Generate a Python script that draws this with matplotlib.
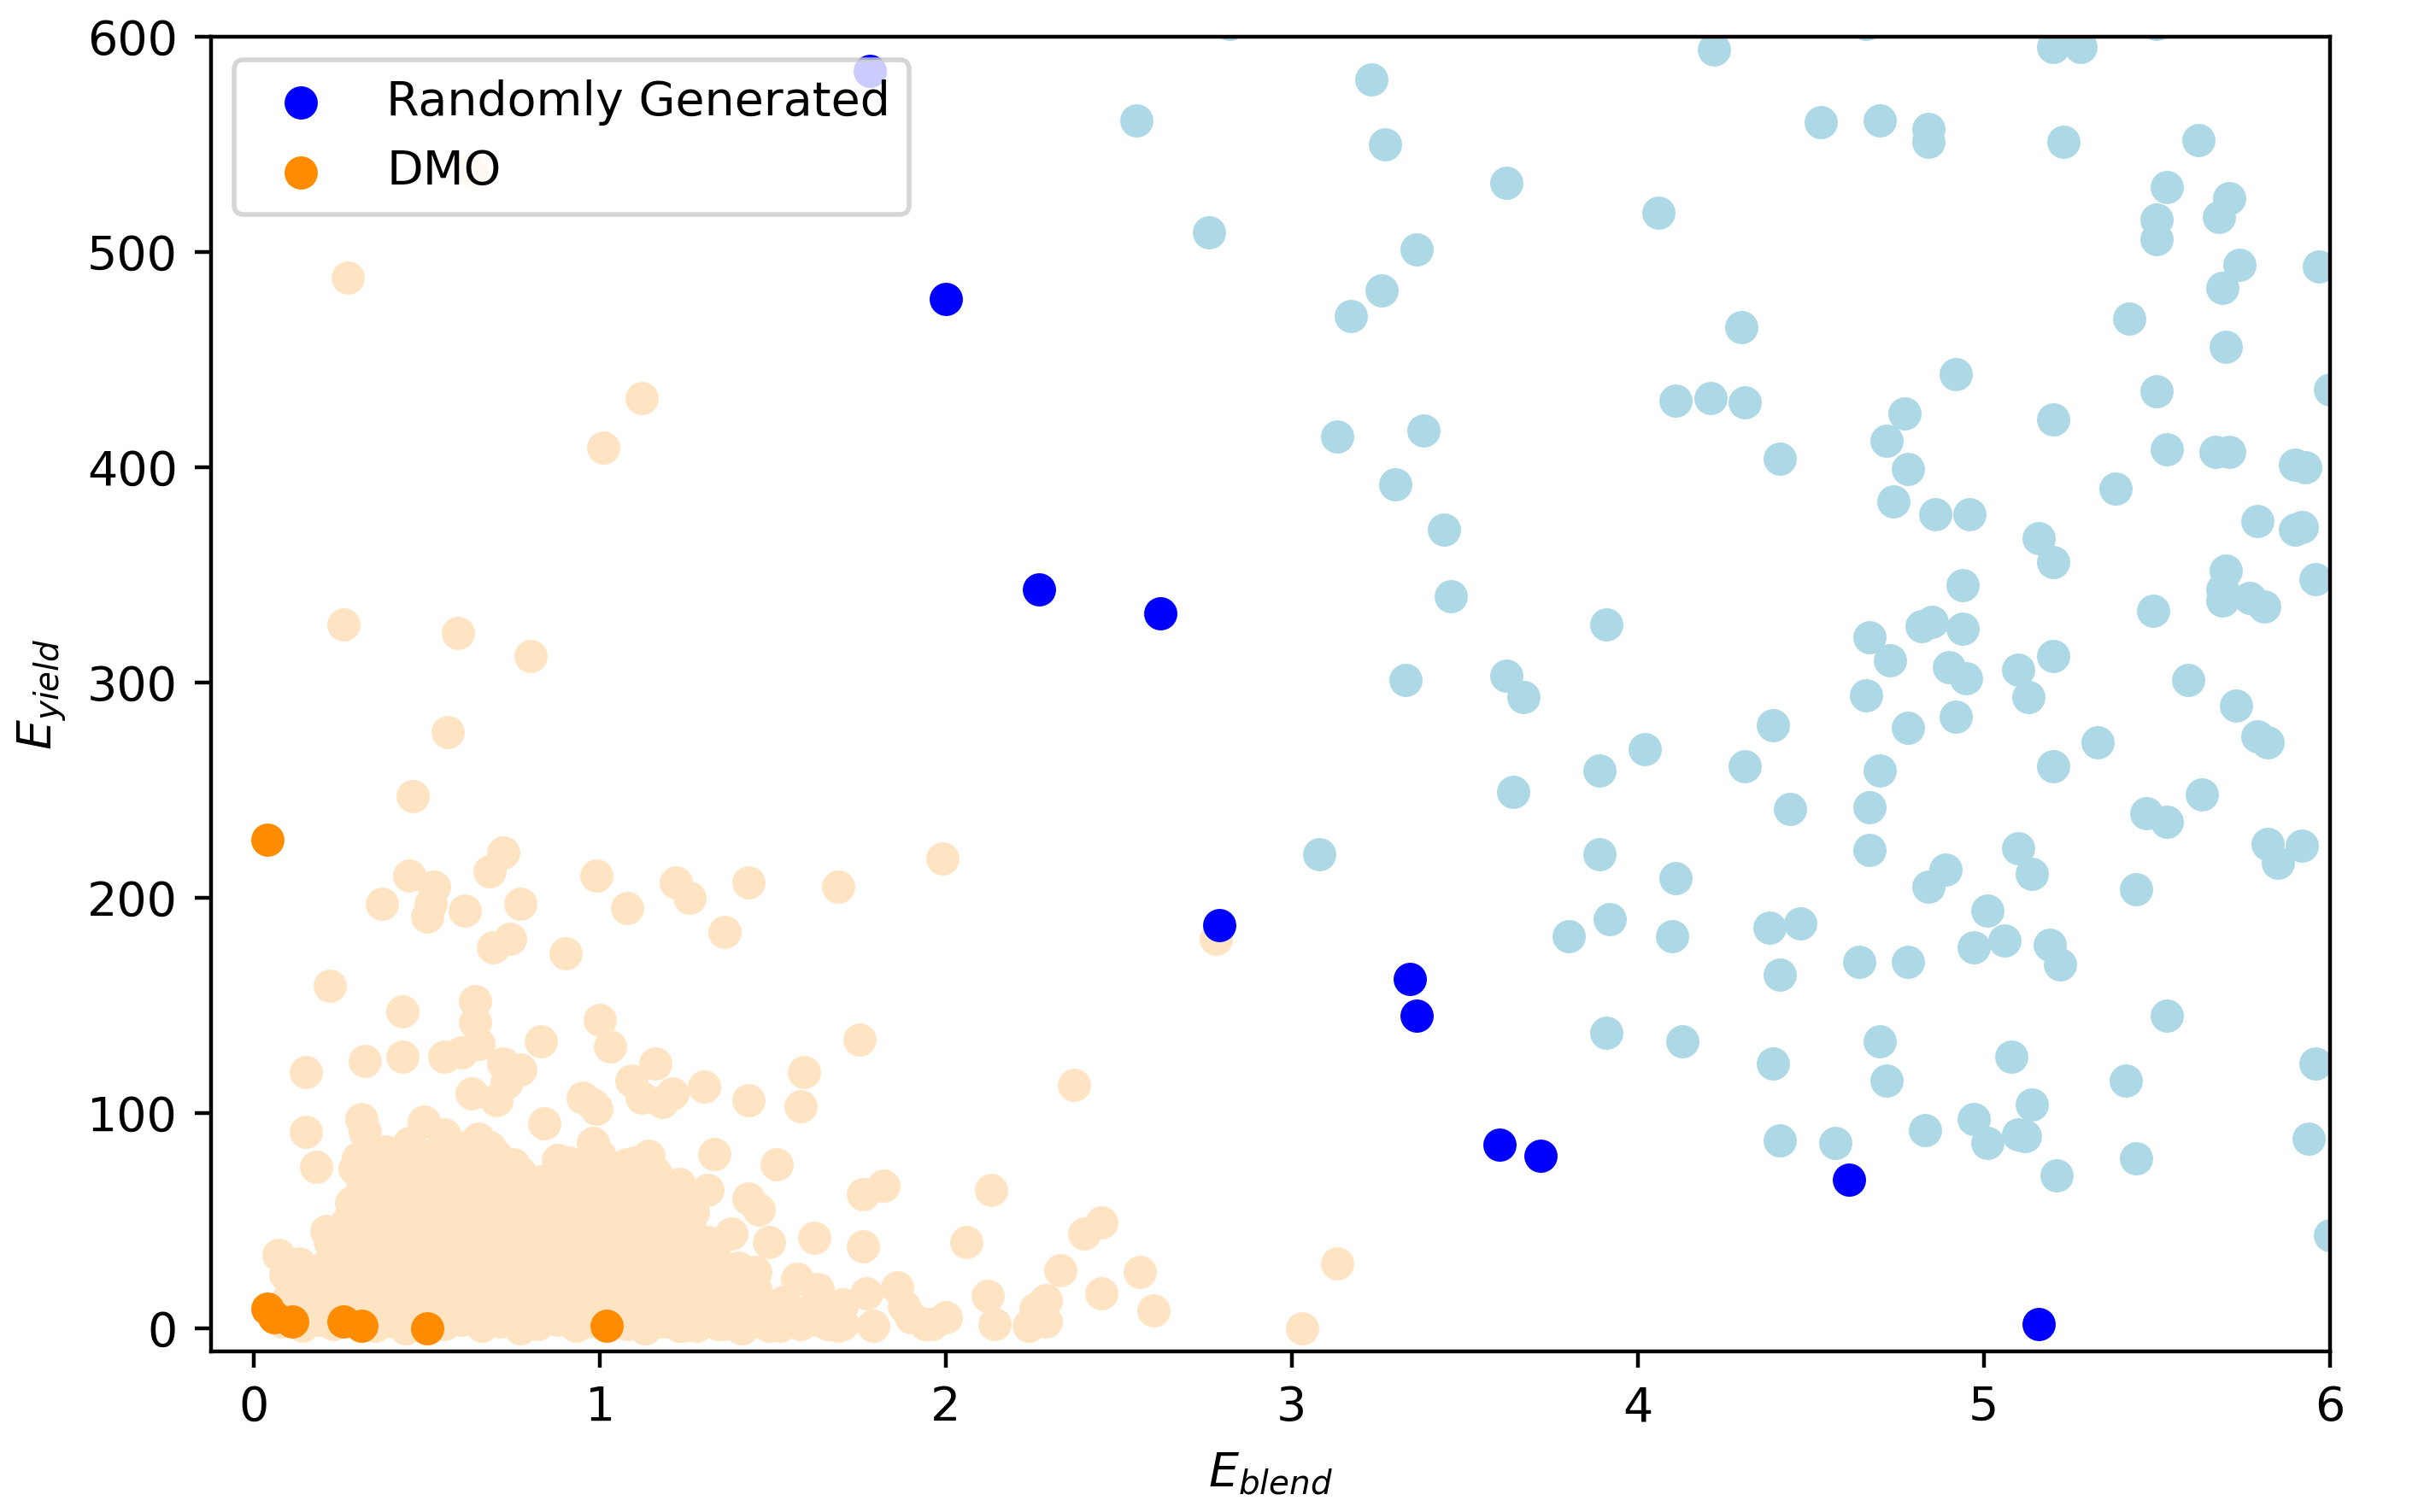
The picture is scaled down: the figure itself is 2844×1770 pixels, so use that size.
import matplotlib
matplotlib.use('Agg')
import matplotlib.pyplot as plt

# randomly generated designs (background)
rand_x = [2.55, 2.76, 2.82, 3.08, 3.13, 3.23, 3.27, 3.26, 3.36, 3.17, 3.30, 3.38, 3.44, 3.46, 3.33,
          3.62, 3.62, 3.67, 3.64, 3.80, 3.91, 3.89, 3.89, 3.92, 3.91,
          4.06, 4.22, 4.30, 4.11, 4.21, 4.31, 4.41, 4.02, 4.31, 4.39, 4.44, 4.11, 4.10, 4.38, 4.47,
          4.41, 4.13, 4.39, 4.41,
          4.53, 4.70, 4.84, 4.84, 4.66, 4.92, 4.77, 4.72, 4.78, 4.74, 4.86, 4.96, 4.94, 4.94, 4.82,
          4.85, 4.67, 4.73, 4.90, 4.95, 4.66, 4.78, 4.92, 4.70, 4.67, 4.67, 4.89, 4.84, 5.01, 4.97,
          4.64, 4.78, 4.70, 4.72, 4.83, 4.57, 4.97, 5.01,
          5.20, 5.28, 5.23, 5.20, 5.16, 5.20, 5.20, 5.10, 5.13, 5.20, 5.33, 5.10, 5.14, 5.06, 5.19,
          5.22, 5.08, 5.14, 5.10, 5.12, 5.21, 5.38, 5.42, 5.50, 5.50, 5.53, 5.50, 5.53, 5.49, 5.47,
          5.53, 5.44, 5.53, 5.41, 5.44, 5.50,
          5.62, 5.71, 5.68, 5.74, 5.69, 5.70, 5.97, 6.00, 5.67, 5.71, 5.90, 5.93, 5.79, 5.90, 5.92,
          5.96, 5.70, 5.69, 5.69, 5.77, 5.81, 5.59, 5.73, 5.79, 5.82, 5.63, 5.82, 5.85, 5.92, 5.96,
          5.94, 6.00]
rand_y = [561, 509, 606, 220, 414, 580, 550, 482, 501, 470, 392, 417, 371, 340, 301,
          532, 303, 293, 249, 182, 327, 259, 220, 190, 137,
          518, 594, 465, 431, 432, 430, 404, 269, 261, 280, 241, 209, 182, 186, 188,
          164, 133, 123, 87,
          560, 561, 557, 551, 606, 443, 425, 412, 399, 384, 378, 378, 345, 325, 326,
          328, 321, 310, 307, 302, 294, 279, 284, 259, 242, 222, 213, 205, 194, 177,
          170, 170, 133, 115, 92, 86, 97, 86,
          595, 595, 551, 422, 367, 356, 312, 306, 293, 261, 272, 223, 211, 180, 178,
          169, 126, 104, 90, 89, 71, 390, 469, 515, 506, 530, 435, 408, 333, 239,
          235, 204, 145, 115, 79, 606,
          552, 525, 516, 494, 483, 456, 493, 436, 407, 407, 401, 400, 375, 371, 372,
          348, 352, 343, 338, 339, 335, 301, 289, 275, 272, 248, 225, 216, 224, 123,
          88, 43]

# DMO designs (background), sparse part
dmo_x = [0.27, 0.63, 1.12, 1.01, 0.26, 0.59, 0.80, 0.56, 0.46, 1.99, 0.72, 0.45, 0.99, 1.22,
         1.43, 1.69, 1.26, 0.52, 0.68, 0.37, 0.51, 0.61, 0.77, 1.08, 0.50, 1.36, 0.69, 0.74,
         0.90, 2.78, 0.22, 0.43, 0.64, 0.64, 1.00, 0.83, 1.75, 0.15, 0.32, 0.43, 0.55, 0.60,
         0.65, 0.72, 0.77, 0.73, 0.63, 0.70, 0.95, 0.99, 1.03, 1.16, 1.09, 1.12, 1.18, 1.21,
         1.30, 1.43, 1.59, 1.58, 2.37, 0.84, 0.15, 0.31, 0.32, 0.49, 0.55, 0.63, 0.68, 0.65,
         0.98, 1.14, 1.10, 1.33, 1.51, 0.18, 0.30, 0.34, 0.29, 0.44, 0.52, 0.45, 0.77, 0.91,
         0.87, 0.98, 1.03, 0.98, 1.23, 1.31, 1.16, 0.31, 0.28, 0.40, 0.66, 0.60, 0.94, 1.43,
         1.46, 1.82, 1.76, 1.27, 1.26, 0.21, 0.28, 1.38, 1.62, 1.49, 1.76, 2.13, 2.06, 2.40,
         2.45, 2.33, 2.56, 2.45, 2.60, 2.12, 2.14, 2.24, 2.29, 2.29, 2.26, 2.00, 1.94, 1.90,
         1.86, 3.13, 3.03, 1.32, 1.45, 1.57, 1.63, 1.77, 1.70, 1.88, 1.53, 1.44, 1.96, 1.79,
         1.66, 1.70, 1.57, 1.49, 1.34, 1.28, 1.23, 1.20, 0.07, 0.09]
dmo_y = [488, 538, 432, 409, 327, 323, 312, 277, 247, 218, 221, 210, 210, 207,
         207, 205, 200, 205, 212, 197, 197, 194, 197, 195, 191, 184, 177, 181,
         174, 181, 159, 147, 152, 142, 143, 133, 134, 119, 124, 126, 126, 128,
         132, 123, 120, 114, 109, 106, 107, 102, 131, 123, 115, 107, 105, 109,
         112, 106, 119, 103, 113, 95, 91, 97, 91, 96, 90, 85, 84, 88,
         86, 80, 77, 81, 76, 75, 79, 79, 74, 74, 77, 68, 72, 77,
         67, 70, 71, 104, 67, 64, 64, 64, 58, 63, 67, 72, 53, 60,
         55, 66, 62, 54, 47, 45, 44, 44, 42, 40, 38, 64, 40, 44,
         49, 27, 26, 16, 8, 15, 2, 1, 3, 13, 9, 5, 2, 5,
         19, 30, 0, 36, 26, 23, 18, 16, 11, 10, 12, 11, 2, 1,
         2, 2, 3, 1, 2, 1, 1, 3, 34, 25]

# DMO designs (background), dense core near the origin
core_x = [0.08, 0.14, 0.19, 0.23, 0.35, 0.40, 0.44, 0.55, 0.60, 0.66, 0.71, 0.77, 0.82, 0.88,
          0.93, 0.98, 1.08, 1.13, 1.18, 1.24, 1.30, 1.36, 1.41, 1.46, 1.52, 1.58, 1.63, 1.69,
          0.09, 0.16, 0.22, 0.28, 0.34, 0.41, 0.47, 0.53, 0.59, 0.65, 0.72, 0.78, 0.84, 0.90,
          0.96, 1.03, 1.09, 1.15, 1.21, 1.27, 1.33, 1.40, 1.47, 1.55, 1.62,
          0.11, 0.18, 0.24, 0.30, 0.37, 0.43, 0.49, 0.56, 0.62, 0.68, 0.74, 0.81, 0.87, 0.93,
          0.99, 1.06, 1.12, 1.18, 1.25, 1.31, 1.38, 1.45,
          0.13, 0.20, 0.27, 0.33, 0.39, 0.46, 0.52, 0.58, 0.64, 0.71, 0.77, 0.83, 0.90, 0.96,
          1.02, 1.09, 1.15, 1.21, 1.28, 1.34, 1.40,
          0.22, 0.29, 0.36, 0.42, 0.49, 0.55, 0.61, 0.68, 0.74, 0.80, 0.87, 0.93, 0.99, 1.06,
          1.12, 1.18, 1.25, 1.31,
          0.27, 0.34, 0.41, 0.47, 0.54, 0.60, 0.66, 0.73, 0.79, 0.85, 0.92, 0.98, 1.05, 1.11,
          1.18, 1.24,
          0.33, 0.40, 0.47, 0.53, 0.59, 0.66, 0.72, 0.79, 0.86, 0.93, 1.00, 1.07, 1.14, 1.21,
          0.38, 0.45, 0.52, 0.58, 0.64, 0.70, 0.76, 0.83, 0.90, 0.98, 1.05, 1.12,
          0.38, 0.45, 0.50, 0.57, 0.62, 0.70, 0.75, 0.88, 0.93, 1.00, 1.08, 1.16]
core_y = [3, 1, 4, 2, 1, 3, 0, 2, 4, 1, 3, 0, 2, 4,
          1, 3, 2, 0, 3, 1, 4, 2, 0, 3, 1, 2, 4, 1,
          12, 9, 11, 8, 12, 10, 9, 12, 8, 11, 10, 9, 12, 8,
          11, 10, 9, 12, 8, 11, 10, 9, 12, 8, 10,
          20, 22, 18, 21, 19, 22, 18, 20, 22, 19, 21, 18, 22, 20,
          19, 21, 18, 22, 20, 19, 21, 18,
          30, 28, 32, 29, 31, 28, 32, 30, 29, 31, 28, 32, 30, 29,
          31, 28, 32, 30, 29, 31, 28,
          40, 38, 42, 39, 41, 38, 42, 40, 39, 41, 38, 42, 40, 39,
          41, 38, 42, 40,
          50, 48, 52, 49, 51, 48, 52, 50, 49, 51, 48, 52, 50, 49,
          51, 48,
          60, 58, 62, 59, 61, 58, 62, 60, 59, 61, 58, 62, 60, 59,
          68, 66, 70, 67, 69, 66, 70, 68, 67, 69, 66, 70,
          82, 86, 80, 84, 78, 80, 76, 78, 74, 80, 76, 72]

# best designs found by each approach
best_rand_x = [1.78, 2.00, 2.27, 2.62, 2.79, 3.34, 3.36, 3.60, 3.72, 4.61, 5.16]
best_rand_y = [584, 478, 343, 332, 187, 162, 145, 85, 80, 69, 2]
best_dmo_x = [0.04, 0.04, 0.06, 0.11, 0.26, 0.31, 0.50, 1.02]
best_dmo_y = [227, 9, 5, 3, 3, 1, 0, 1]

fig = plt.figure(figsize=(7.11, 4.425), dpi=400)
ax = fig.add_axes([0.0867, 0.1060, 0.8720, 0.8699])

ax.scatter(rand_x, rand_y, color='lightblue')
ax.scatter(dmo_x + core_x, dmo_y + core_y, color='bisque')
ax.scatter(best_rand_x, best_rand_y, color='blue', label='Randomly Generated')
ax.scatter(best_dmo_x, best_dmo_y, color='darkorange', label='DMO')

ax.set_xlim(-0.125, 6)
ax.set_ylim(-11, 600)
ax.set_xlabel(r'$E_{blend}$')
ax.set_ylabel(r'$E_{yield}$')
ax.legend(loc='upper left')

fig.savefig('out.png', dpi=400)
